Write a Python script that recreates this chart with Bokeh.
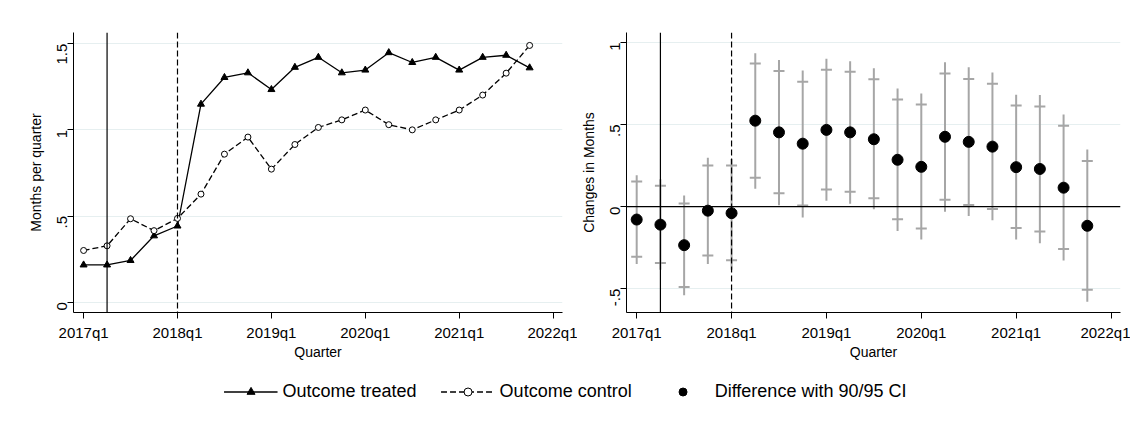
import math
from bokeh.plotting import figure
from bokeh.models import Span, Legend, LegendItem, FixedTicker, Range1d
from bokeh.layouts import column, row
from bokeh.embed import file_html
from bokeh.resources import INLINE

quarters = list(range(20))
tick_pos = [0, 4, 8, 12, 16, 20]
tick_labels = ["2017q1", "2018q1", "2019q1", "2020q1", "2021q1", "2022q1"]

treated = [0.216, 0.216, 0.242, 0.385, 0.442, 1.149, 1.304, 1.331, 1.234, 1.363,
           1.421, 1.331, 1.347, 1.448, 1.391, 1.421, 1.347, 1.421, 1.433, 1.36]
control = [0.30, 0.327, 0.484, 0.415, 0.486, 0.627, 0.859, 0.958, 0.772, 0.915,
           1.014, 1.058, 1.115, 1.03, 1.0, 1.058, 1.115, 1.202, 1.329, 1.49]

diff = [-0.079, -0.11, -0.235, -0.025, -0.04, 0.523, 0.452, 0.383, 0.467, 0.452,
        0.41, 0.285, 0.242, 0.425, 0.394, 0.365, 0.24, 0.229, 0.115, -0.117]
lo90 = [-0.306, -0.344, -0.49, -0.298, -0.327, 0.175, 0.081, 0.006, 0.104, 0.09,
        0.05, -0.077, -0.133, 0.042, 0.01, -0.015, -0.131, -0.152, -0.258, -0.506]
hi90 = [0.152, 0.127, 0.019, 0.25, 0.25, 0.871, 0.825, 0.76, 0.833, 0.821,
        0.775, 0.652, 0.621, 0.81, 0.777, 0.748, 0.615, 0.61, 0.492, 0.277]
lo95 = [-0.35, -0.385, -0.54, -0.35, -0.385, 0.108, 0.008, -0.067, 0.035, 0.017,
        -0.017, -0.148, -0.2, -0.031, -0.058, -0.083, -0.2, -0.223, -0.329, -0.579]
hi95 = [0.19, 0.167, 0.067, 0.298, 0.29, 0.933, 0.892, 0.829, 0.9, 0.885,
        0.842, 0.719, 0.688, 0.879, 0.848, 0.817, 0.681, 0.679, 0.56, 0.348]

FONT = "Liberation Sans"
GRID = "#e6eff0"


def style(p, ylabel, yticks, ylabels):
    p.outline_line_color = None
    p.background_fill_color = "white"
    p.xgrid.grid_line_color = None
    p.ygrid.grid_line_color = GRID
    p.ygrid.ticker = FixedTicker(ticks=yticks)
    p.xaxis.ticker = FixedTicker(ticks=tick_pos)
    p.xaxis.major_label_overrides = dict(zip(tick_pos, tick_labels))
    p.yaxis.ticker = FixedTicker(ticks=yticks)
    p.yaxis.major_label_overrides = dict(zip(yticks, ylabels))
    p.yaxis.major_label_orientation = math.pi / 2
    p.xaxis.axis_label = "Quarter"
    p.yaxis.axis_label = ylabel
    for ax in (p.xaxis, p.yaxis):
        ax.major_tick_in = 0
        ax.major_tick_out = 6
        ax.minor_tick_line_color = None
        ax.axis_line_color = "black"
        ax.major_tick_line_color = "black"
        ax.major_label_text_font = FONT
        ax.major_label_text_font_size = "15px"
        ax.major_label_text_color = "black"
        ax.axis_label_text_font = FONT
        ax.axis_label_text_font_size = "14px"
        ax.axis_label_text_font_style = "normal"
        ax.axis_label_text_color = "black"
    p.xaxis.axis_label_standoff = 0
    p.yaxis.axis_label_standoff = 6
    p.add_layout(Span(location=1, dimension="height", line_color="black", line_width=1.2))
    p.add_layout(Span(location=4, dimension="height", line_color="black",
                      line_width=1.2, line_dash="6 3"))


p1 = figure(width=577, height=362, output_backend="svg", toolbar_location=None,
            x_range=Range1d(-0.43, 20.4), y_range=Range1d(-0.06, 1.565),
            min_border_left=73, min_border_right=15, min_border_top=32, min_border_bottom=47)
style(p1, "Months per quarter", [0, 0.5, 1, 1.5], ["0", ".5", "1", "1.5"])
p1.line(quarters, treated, line_color="black", line_width=1.3)
p1.scatter(quarters, treated, marker="triangle", size=7, color="black")
p1.line(quarters, control, line_color="black", line_width=1.3, line_dash="6 3")
p1.scatter(quarters, control, marker="circle", size=6, fill_color="white",
           line_color="black")

p2 = figure(width=553, height=362, output_backend="svg", toolbar_location=None,
            x_range=Range1d(-0.43, 20.4), y_range=Range1d(-0.645, 1.06),
            min_border_left=40, min_border_right=10, min_border_top=32, min_border_bottom=47)
style(p2, "Changes in Months", [-0.5, 0, 0.5, 1], ["-.5", "0", ".5", "1"])
p2.add_layout(Span(location=0, dimension="width", line_color="black", line_width=1.2))
p2.segment(quarters, lo95, quarters, hi95, line_color="#a6a6a6", line_width=2)
p2.scatter(quarters, lo90, marker="dash", size=11, line_color="#a6a6a6", line_width=2)
p2.scatter(quarters, hi90, marker="dash", size=11, line_color="#a6a6a6", line_width=2)
p2.scatter(quarters, diff, marker="circle", size=11, color="black")

# legend strip: renderers with no visible points, only used for the legend glyphs
leg = figure(width=1130, height=44, output_backend="svg", toolbar_location=None,
             x_range=Range1d(0, 1), y_range=Range1d(0, 1), min_border=0,
             min_border_top=14)
leg.axis.visible = False
leg.grid.visible = False
leg.outline_line_color = None
nan = [float("nan")]
r1 = leg.line(nan, nan, line_color="black", line_width=1.3)
r1m = leg.scatter(nan, nan, marker="triangle", size=7, color="black")
r2 = leg.line(nan, nan, line_color="black", line_width=1.3, line_dash="6 3")
r2m = leg.scatter(nan, nan, marker="circle", size=6, fill_color="white", line_color="black")
r3 = leg.scatter(nan, nan, marker="circle", size=11, color="black")
legend = Legend(items=[
    LegendItem(label="Outcome treated", renderers=[r1, r1m]),
    LegendItem(label="Outcome control", renderers=[r2, r2m]),
    LegendItem(label="Difference with 90/95 CI", renderers=[r3]),
], orientation="horizontal", location="center", border_line_color=None,
    label_text_font=FONT, label_text_font_size="18px", label_text_color="black",
    glyph_width=54, spacing=24, background_fill_alpha=0)
leg.add_layout(legend, "center")

p = column(row(p1, p2), leg)
open("out.html", "w").write(file_html(p, INLINE))
